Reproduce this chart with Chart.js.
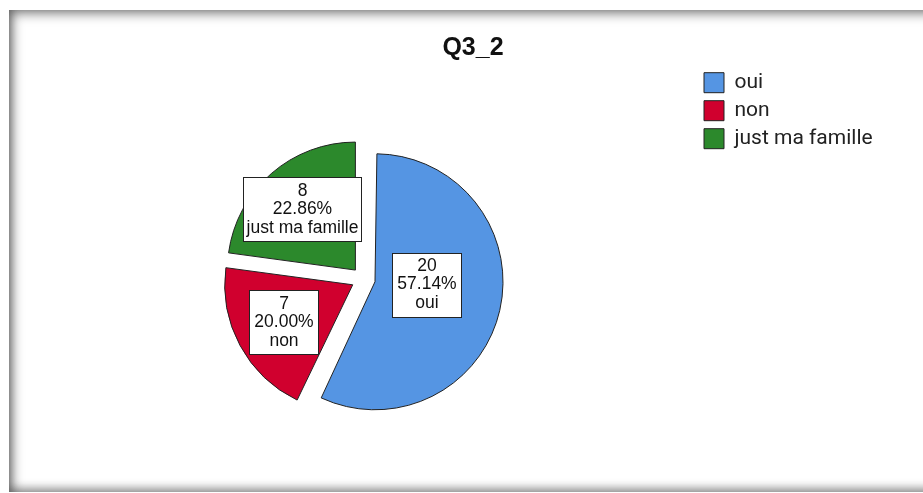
<!DOCTYPE html>
<html><head><meta charset="utf-8">
<script src="https://cdn.jsdelivr.net/npm/chart.js@4.4.1/dist/chart.umd.min.js"></script>
<style>
html,body{margin:0;padding:0;background:#fff;overflow:hidden;width:923px;height:493px;}
.frame{position:absolute;left:9px;top:10px;width:1000px;height:482px;background:#fff;
  box-shadow: inset 3px 3px 12px rgba(0,0,0,0.55), inset 0 -5px 9px rgba(0,0,0,0.28);}
#wrap{position:absolute;left:0;top:0;width:923px;height:493px;}
</style></head><body>
<div class="frame"></div>
<div id="wrap"><canvas id="c" width="923" height="493"></canvas></div>
<script>
// ---- data ----
const chartTitle = 'Q3_2';
const categories = ['oui', 'non', 'just ma famille'];
const counts = [20, 7, 8];
// ---- styles ----
const sliceColors = ['#5595E3', '#D0002E', '#2C892C'];

// layout targets (pixels)
const padLeft = 29.6, padRight = 6.6, legendLeft = 697;
const legendFontSize = 21, legendBox = 20, legendPad = 7;
const mctx = document.createElement('canvas').getContext('2d');
mctx.font = legendFontSize + 'px Roboto';
const maxLabelW = Math.max(...categories.map(s => mctx.measureText(s).width));
const legendW = legendPad + legendBox + legendFontSize / 2 + maxLabelW + 10;
const spacerW = Math.max((923 - padRight) - legendLeft - legendW, 0);

const explodeFix = {
  id: 'explodeFix',
  afterDatasetsUpdate(chart) {
    chart.getDatasetMeta(0).data.forEach(arc => {
      const off = (arc.options.offset || 0) / 4;
      const circ = arc.endAngle - arc.startAngle;
      const fix = 1 - Math.sin(Math.min(Math.PI, circ));
      arc.outerRadius -= off * fix;
    });
  }
};

const sliceLabels = {
  id: 'sliceLabels',
  afterDatasetsDraw(chart, args, opts) {
    const ctx = chart.ctx;
    const meta = chart.getDatasetMeta(0);
    const ds = chart.data.datasets[0];
    const total = ds.data.reduce((a, b) => a + b, 0);
    const R = meta.controller.outerRadius;
    meta.data.forEach((arc, i) => {
      const mid = (arc.startAngle + arc.endAngle) / 2;
      const shift = (arc.options.offset || 0) / 4;
      const cx = arc.x + Math.cos(mid) * shift, cy = arc.y + Math.sin(mid) * shift;
      const a = mid + (opts.angleShift[i] || 0) * Math.PI / 180;
      const r = R * opts.radius[i];
      const lx = cx + Math.cos(a) * r, ly = cy + Math.sin(a) * r;
      const lines = [String(ds.data[i]), (ds.data[i] / total * 100).toFixed(2) + '%', chart.data.labels[i]];
      ctx.save();
      ctx.font = opts.font;
      const tw = Math.max(...lines.map(s => ctx.measureText(s).width));
      const w = Math.round(Math.max(tw + 2 * opts.padX, opts.minWidth));
      const h = opts.height;
      const x0 = Math.round(lx - w / 2) + 0.5, y0 = Math.round(ly - h / 2) + 0.5;
      ctx.fillStyle = '#fff'; ctx.fillRect(x0, y0, w, h);
      ctx.strokeStyle = '#222'; ctx.lineWidth = 1; ctx.strokeRect(x0, y0, w, h);
      ctx.fillStyle = '#111'; ctx.textAlign = 'center'; ctx.textBaseline = 'middle';
      lines.forEach((s, k) => ctx.fillText(s, x0 + w / 2, ly + (k - 1) * opts.lineHeight));
      ctx.restore();
    });
  }
};

new Chart(document.getElementById('c'), {
  type: 'pie',
  data: {
    labels: categories,
    datasets: [{
      data: counts,
      backgroundColor: sliceColors,
      borderColor: '#222',
      borderWidth: 1,
      offset: 48,
      hoverOffset: 0,
      radius: 128
    }]
  },
  options: {
    responsive: false,
    animation: false,
    devicePixelRatio: 1,
    events: [],
    layout: { padding: { left: padLeft, right: padRight, top: 33.6, bottom: -2.4 } },
    plugins: {
      title: {
        display: true, text: chartTitle, color: '#111',
        font: { family: 'Liberation Sans', size: 25, weight: 'bold', lineHeight: 1.2 },
        padding: { top: 0, bottom: 1.6 }
      },
      subtitle: {
        display: true, text: '', position: 'right',
        font: { size: spacerW, lineHeight: 1 }, padding: 0
      },
      legend: {
        position: 'right', align: 'start', fullSize: false,
        labels: {
          boxWidth: legendBox, boxHeight: legendBox, padding: legendPad, color: '#222',
          font: { family: 'Roboto', size: legendFontSize }
        }
      },
      tooltip: { enabled: false },
      sliceLabels: {
        font: '17.5px "Liberation Sans"',
        lineHeight: 18.5, height: 64, padX: 3, minWidth: 69,
        radius: [0.405, 0.618, 0.63],
        angleShift: [-9.8, 0, 0]
      }
    }
  },
  plugins: [explodeFix, sliceLabels]
});
</script>
</body></html>
